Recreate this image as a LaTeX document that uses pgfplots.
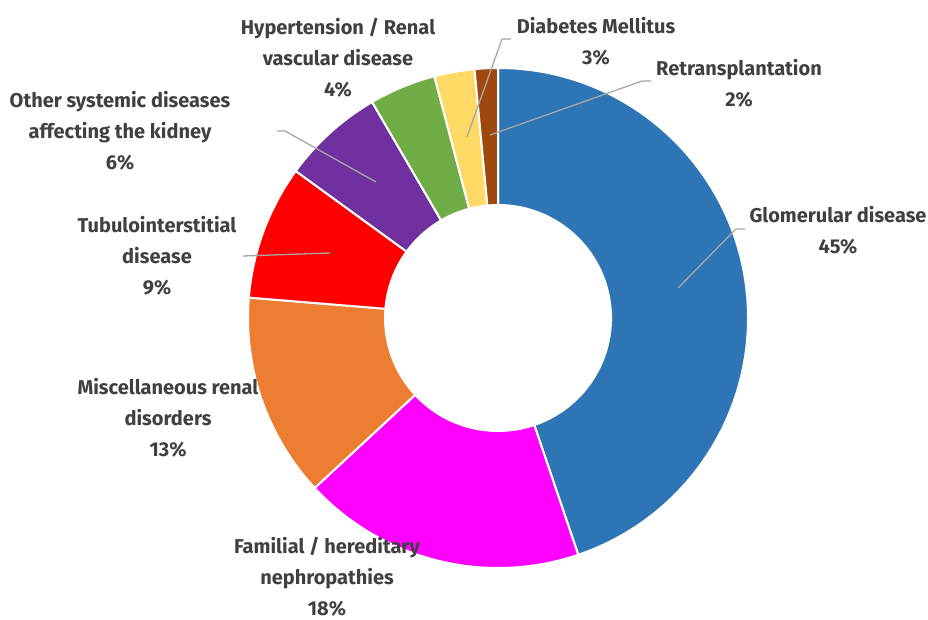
\documentclass[border=0pt]{standalone}
\usepackage{pgfplots}
\pgfplotsset{compat=1.18}
\usepackage{pgfplotstable}
\usepackage{fontspec}
\setmainfont{Fira Sans}

\definecolor{cGlom}{HTML}{2E75B6}
\definecolor{cFam}{HTML}{FF00FF}
\definecolor{cMisc}{HTML}{ED7D31}
\definecolor{cTub}{HTML}{FF0000}
\definecolor{cOth}{HTML}{7030A0}
\definecolor{cHyp}{HTML}{70AD47}
\definecolor{cDia}{HTML}{FFD966}
\definecolor{cRet}{HTML}{9E480E}
\definecolor{txt}{HTML}{404040}
\definecolor{lead}{HTML}{A6A6A6}

% share of each slice (percent), clockwise from 12 o'clock
\pgfplotstableread[col sep=comma]{
value,color
44.8,cGlom
18.3,cFam
13.2,cMisc
8.7,cTub
6.6,cOth
4.3,cHyp
2.6,cDia
1.5,cRet
}\slices

\def\cx{498}\def\cy{301}\def\Ro{250}\def\Ri{113}

\begin{document}
\begin{tikzpicture}
\begin{axis}[
    width=928pt, height=619pt, scale only axis,
    xmin=0, xmax=928, ymin=0, ymax=619,
    hide axis, clip=false,
]
% keep the whole frame as the picture
\path (axis cs:0,0) (axis cs:928,619);

\xdef\cum{0}
\pgfplotstablegetrowsof{\slices}
\pgfmathtruncatemacro\last{\pgfplotsretval-1}
\foreach \i in {0,...,\last}{
    \pgfplotstablegetelem{\i}{value}\of\slices \let\v\pgfplotsretval
    \pgfplotstablegetelem{\i}{color}\of\slices \let\c\pgfplotsretval
    \pgfmathsetmacro\a{90-3.6*\cum}
    \pgfmathsetmacro\b{90-3.6*(\cum+\v)}
    \pgfmathsetmacro\xa{\cx+\Ro*cos(\a)}\pgfmathsetmacro\ya{\cy+\Ro*sin(\a)}
    \pgfmathsetmacro\xb{\cx+\Ri*cos(\b)}\pgfmathsetmacro\yb{\cy+\Ri*sin(\b)}
    \edef\temp{\noexpand\filldraw[fill=\c, draw=white, line width=2pt, line join=round]
        (axis cs:\xa,\ya) arc[start angle=\a, end angle=\b, radius=\Ro]
        -- (axis cs:\xb,\yb) arc[start angle=\b, end angle=\a, radius=\Ri] -- cycle;}
    \temp
    \pgfmathsetmacro\n{\cum+\v}
    \xdef\cum{\n}
}

% leader lines
\draw[lead, line width=1.3pt] (axis cs:745,390) -- (axis cs:736,390) -- (axis cs:678,331);
\draw[lead, line width=1.3pt] (axis cs:243,363) -- (axis cs:330,366);
\draw[lead, line width=1.3pt] (axis cs:277,488) -- (axis cs:285,488) -- (axis cs:376,437);
\draw[lead, line width=1.3pt] (axis cs:511,580) -- (axis cs:502,580) -- (axis cs:467,482);
\draw[lead, line width=1.3pt] (axis cs:651,538) -- (axis cs:642,538) -- (axis cs:490,484);

% labels
\tikzset{lbl/.style={text=txt, font=\fontsize{20}{31}\selectfont\bfseries, align=center, inner sep=0pt, anchor=center}}
\node[lbl] at (axis cs:838,388.5) {Glomerular disease\\45\%};
\node[lbl] at (axis cs:327,42) {Familial / hereditary\\nephropathies\\18\%};
\node[lbl] at (axis cs:168,201) {Miscellaneous renal\\disorders\\13\%};
\node[lbl] at (axis cs:157,363) {Tubulointerstitial\\disease\\9\%};
\node[lbl] at (axis cs:120,488) {Other systemic diseases\\affecting the kidney\\6\%};
\node[lbl] at (axis cs:338,561) {Hypertension / Renal\\vascular disease\\4\%};
\node[lbl] at (axis cs:596,577.5) {Diabetes Mellitus\\3\%};
\node[lbl] at (axis cs:739,535.5) {Retransplantation\\2\%};
\end{axis}
\end{tikzpicture}
\end{document}
